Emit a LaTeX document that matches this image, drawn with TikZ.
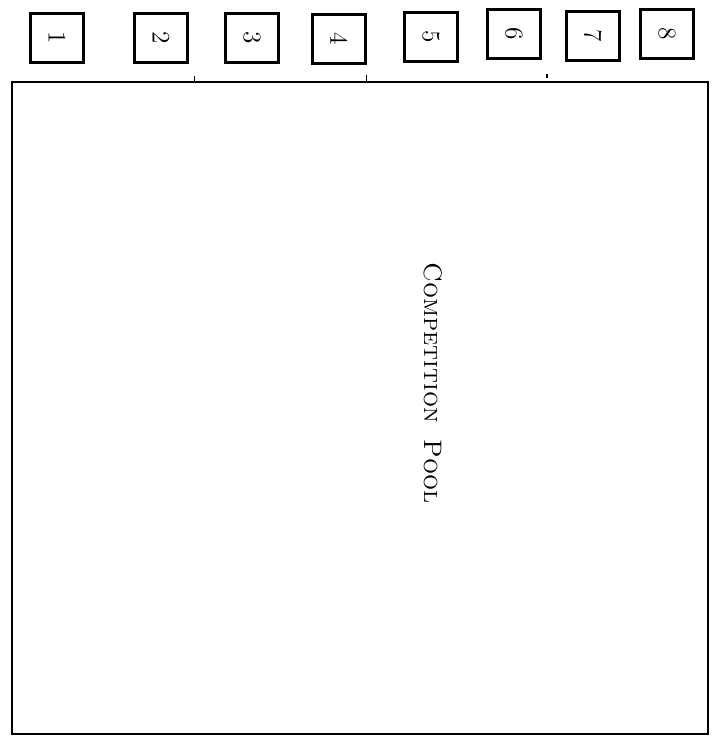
\documentclass[tikz,border=0pt]{standalone}
\usepackage{tikz}
\usetikzlibrary{positioning}

\begin{document}
\begin{tikzpicture}[
    x=0.02cm,y=-0.02cm,
    font=\Large,
    block/.style={
        draw, line width=1.4pt,
        minimum width=1.06cm,
        minimum height=0.98cm,
        inner sep=0pt
    },
    pool/.style={
        draw, line width=1.1pt,
        minimum width=13.92cm,
        minimum height=13.06cm,
        inner sep=0pt
    },
    tick/.style={line width=0.6pt},
    ann/.style={font=\Large, rotate=-90}
]

% --- Fixed frame, same size as the sketch ---
\useasboundingbox (0,0) rectangle (711,742);

% --- Starting blocks ---
\foreach \x/\y/\n in {57/38/1, 161/38/2, 252/38/3, 339/39/4,
                      431/37/5, 514/34/6, 593/36/7, 667/34/8}
    \node[block] (blk\n) at (\x,\y) {\rotatebox{-90}{\n}};

% --- Pool outline ---
\node[pool] (pool) at (360,408) {};

% --- Lane marks on the top edge ---
\draw[tick] ([xshift=3.66cm]pool.north west) -- ++(0,-5);
\draw[tick] ([xshift=7.1cm]pool.north west) -- ++(0,-6);
\draw[tick] ([xshift=10.72cm,yshift=0.06cm]pool.north west) -- ++(0,-4);

% --- Label ---
\node[ann] (poolname) at (433,383) {\textsc{Competition} \ \textsc{Pool}};

\end{tikzpicture}
\end{document}
